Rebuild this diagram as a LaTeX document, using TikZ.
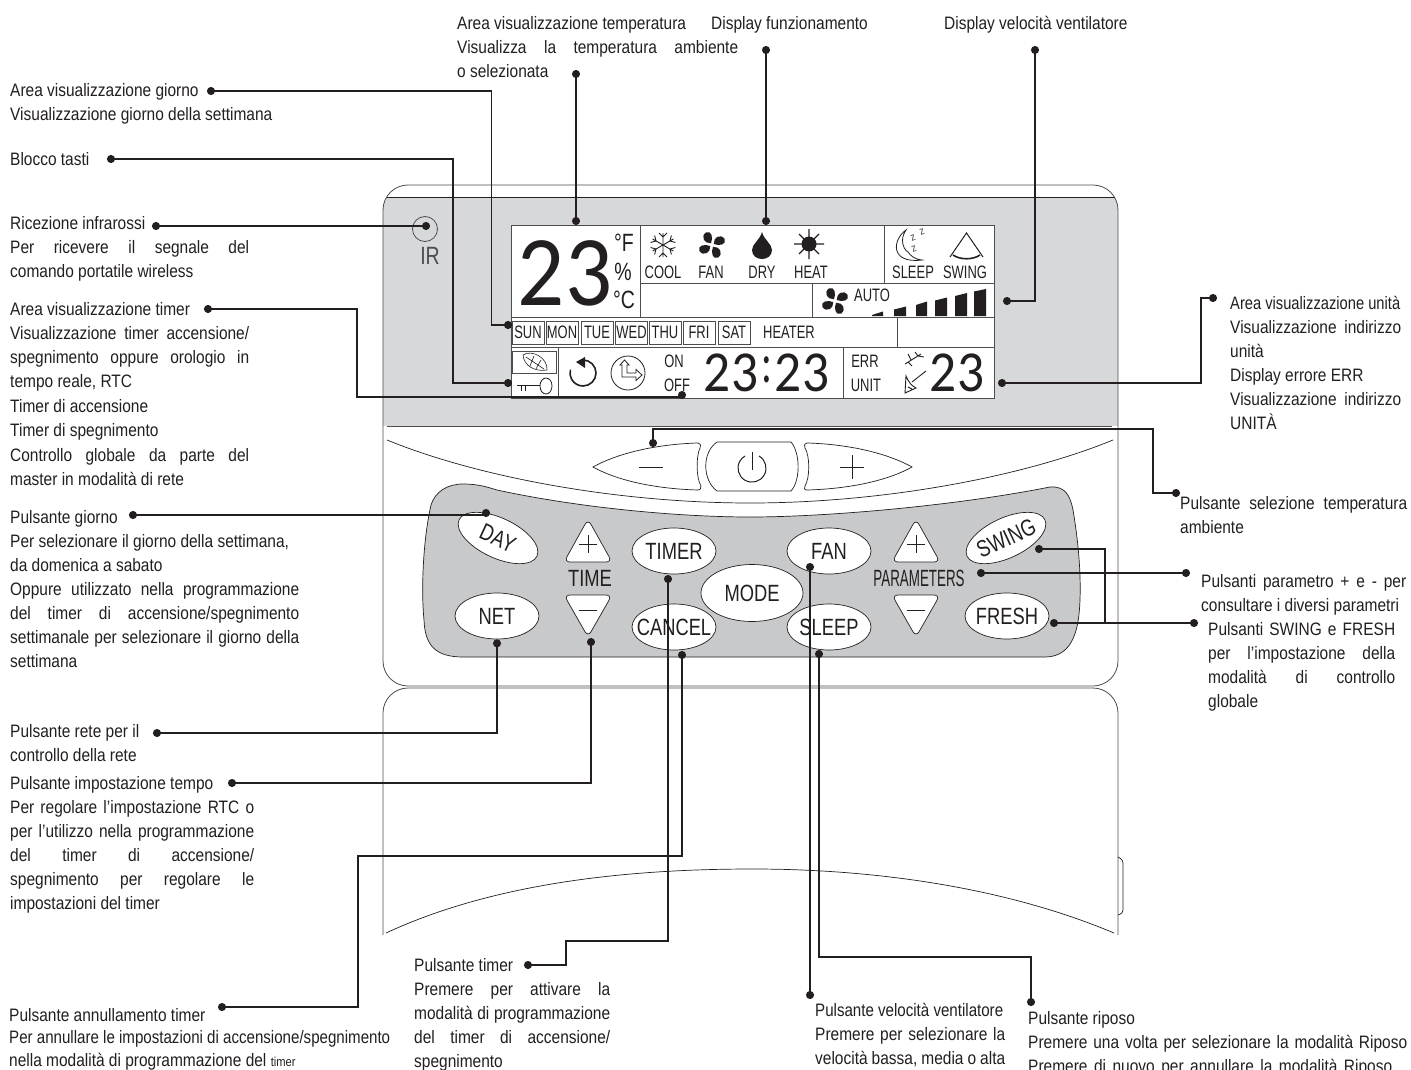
\documentclass[tikz,border=0pt]{standalone}
\usepackage{fontspec}
\setmainfont[FakeStretch=0.86]{Liberation Sans}
\newfontfamily\lcdfont{Carlito}
\newfontfamily\keyfont[FakeStretch=0.78]{Liberation Sans}
\newfontfamily\narrowfont[FakeStretch=0.72]{Liberation Sans}
\usetikzlibrary{arrows.meta,shapes.geometric}
\definecolor{ink}{HTML}{231F20}
\definecolor{lcdgrey}{HTML}{D7D8DA}
\definecolor{padgrey}{HTML}{C8C9CB}
\definecolor{edge}{HTML}{4D4D4F}
\newcommand{\notefont}{\fontsize{18}{24}\selectfont}
\newcommand{\jl}[1]{\makebox[\hsize][s]{#1}}
\newcommand{\sq}[2]{\resizebox{#1}{\height}{#2}}
\newcommand{\keytxt}[1]{\makebox[0pt]{\raisebox{-.36em}[0pt][0pt]{#1}}}
\tikzset{
  note/.style={anchor=north west,inner sep=0pt,align=flush left,font=\notefont,text=ink},
  lead/.style={draw=ink,line width=1.6pt,{Circle[length=8pt]}-{Circle[length=8pt]}},
  leadopen/.style={draw=ink,line width=1.6pt,{Circle[length=8pt]}-},
  outl/.style={draw=edge,line width=0.8pt},
  thinl/.style={draw=ink,line width=0.7pt},
  keybtn/.style={ellipse,draw=ink,line width=0.7pt,fill=white,inner sep=0pt,text=ink,
    minimum width=84pt,minimum height=46pt,font=\keyfont\fontsize{23.5}{24}\selectfont},
  keyrot/.style={keybtn,minimum width=86pt,minimum height=40pt},
  lcdbox/.style={draw=edge,line width=0.8pt},
  lcdtxt/.style={inner sep=0pt,text=ink,font=\narrowfont\fontsize{18}{18}\selectfont},
  unitxt/.style={inner sep=0pt,text=ink,font=\keyfont\fontsize{25}{25}\selectfont},
  zzz/.style={inner sep=0pt,text=edge,rotate=20,font=\fontsize{11}{11}\selectfont},
  dayb/.style={draw=edge,line width=0.7pt,inner sep=0pt,minimum width=32pt,minimum height=23pt,
    text=ink,font=\narrowfont\fontsize{18}{18}\selectfont},
  big/.style={inner sep=0pt,text=ink,font=\lcdfont\fontsize{100}{100}\selectfont},
  mid/.style={inner sep=0pt,text=ink,font=\lcdfont\fontsize{58}{58}\selectfont},
  padtxt/.style={inner sep=0pt,text=ink,font=\keyfont\fontsize{23.5}{24}\selectfont},
  fanicon/.pic={
    \foreach \a in {30,120,210,300}
      \fill[ink,rotate=\a] (0,-2) .. controls (-6,-5) and (-6,-13) .. (1,-14) .. controls (7,-13) and (5,-6) .. (0,-2) -- cycle;
  },
  flakeicon/.pic={
    \foreach \a in {0,60,120}
      \draw[ink,line width=0.9pt,rotate=\a] (0,-12) -- (0,12) (-4,-12) -- (0,-8) -- (4,-12) (-4,12) -- (0,8) -- (4,12);
  }
}
\begin{document}
\begin{tikzpicture}[x=1pt,y=-1pt]
\useasboundingbox[fill=white] (0,0) rectangle (1411,1070);

\begin{scope}
\clip[rounded corners=25pt] (383,185) rectangle (1118,686);
\fill[lcdgrey] (383,197) rectangle (1118,426);
\end{scope}
\draw[outl,rounded corners=25pt] (383,185) rectangle (1118,686);
\draw[thinl] (387,197) -- (1115,197);
\draw[outl] (387,426) -- (1112,426);
\draw[outl,rounded corners=25pt] (383,935) -- (383,688) -- (1118,688) -- (1118,935);
\draw[thinl] (386,933) .. controls (500,880) and (640,869) .. (753,869) .. controls (866,869) and (1000,885) .. (1114,933);
\draw[thinl,rounded corners=3pt] (1118,857) -- (1123,860) -- (1123,913) -- (1118,915);
\draw[thinl] (387,440) .. controls (480,478) and (620,503) .. (750,503) .. controls (880,503) and (1020,478) .. (1113,440);

\draw[thinl,fill=padgrey] (463,484) .. controls (478,484) and (487,487) .. (497,490) .. controls (580,508) and (680,517) .. (750,517)
  .. controls (830,517) and (960,505) .. (1050,487) .. controls (1065,486) and (1070,495) .. (1073,510)
  .. controls (1078,540) and (1081,570) .. (1080,600) .. controls (1079,625) and (1075,657) .. (1045,657)
  -- (463,657) .. controls (435,657) and (425,645) .. (424,620) .. controls (421,590) and (423,540) .. (431,505)
  .. controls (435,492) and (447,484) .. (463,484) -- cycle;

\draw[thinl,fill=white] (593,467) .. controls (620,452) and (660,444) .. (698,443) .. controls (701,444) and (701,446) .. (700,448)
  .. controls (696,456) and (696,478) .. (701,486) .. controls (701,489) and (700,490) .. (698,490) .. controls (660,489) and (620,482) .. (593,467) -- cycle;
\draw[thinl,fill=white] (717,442) -- (791,442) .. controls (800,452) and (801,480) .. (791,491) -- (717,491) .. controls (702,480) and (702,452) .. (717,442) -- cycle;
\draw[thinl,fill=white] (807,443) .. controls (845,444) and (885,452) .. (912,467) .. controls (885,482) and (845,489) .. (807,490)
  .. controls (804,490) and (804,488) .. (805,486) .. controls (810,478) and (810,456) .. (805,448) .. controls (804,446) and (804,444) .. (807,443) -- cycle;
\draw[thinl] (639,467) -- (663,467);
\draw[thinl] (840,467) -- (864,467) (852,455) -- (852,479);
\draw[draw=ink,line width=1pt] (759,456) arc[start angle=-60,end angle=240,radius=14];
\draw[draw=ink,line width=1pt] (752,452) -- (752,470);

\node[keyrot,rotate=-25] (day) at (498,538) {\keytxt{DAY}};
\node[keybtn] (net) at (497,616) {\keytxt{NET}};
\node[keybtn] (timer) at (674,551) {\keytxt{TIMER}};
\node[keybtn] (cancel) at (674,627) {\keytxt{CANCEL}};
\node[keybtn,minimum width=102pt,minimum height=57pt] (mode) at (752,593) {\keytxt{MODE}};
\node[keybtn] (fan) at (829,551) {\keytxt{FAN}};
\node[keybtn] (sleep) at (829,627) {\keytxt{SLEEP}};
\node[keyrot,rotate=25] (swing) at (1006,538) {\keytxt{SWING}};
\node[keybtn] (fresh) at (1007,616) {\keytxt{FRESH}};

\draw[thinl,fill=white,rounded corners=6pt] (588,519) -- (612,562) -- (564,562) -- cycle;
\draw[thinl] (579,544) -- (597,544) (588,535) -- (588,553);
\draw[thinl,fill=white,rounded corners=6pt] (564,595) -- (612,595) -- (588,637) -- cycle;
\draw[thinl] (579,610) -- (597,610);
\draw[thinl,fill=white,rounded corners=6pt] (916,519) -- (940,562) -- (892,562) -- cycle;
\draw[thinl] (907,544) -- (925,544) (916,535) -- (916,553);
\draw[thinl,fill=white,rounded corners=6pt] (892,595) -- (940,595) -- (916,637) -- cycle;
\draw[thinl] (907,610) -- (925,610);
\node[padtxt] (timelab) at (590,578) {TIME};
\node[padtxt] (paramlab) at (919,578) {\scalebox{.73}[1]{PARAMETERS}};

\draw[outl] (425,229) circle[radius=12.5];
\node[unitxt,text=edge] (ir) at (430,256) {IR};

\draw[lcdbox,fill=white] (511,225) rectangle (994,398);
\draw[lcdbox] (640,225) -- (640,317);
\draw[lcdbox] (640,283) -- (994,283);
\draw[lcdbox] (884,225) -- (884,283);
\draw[lcdbox] (812,283) -- (812,317);
\draw[lcdbox] (511,317) -- (994,317);
\draw[lcdbox] (511,347) -- (994,347);
\draw[lcdbox] (897,317) -- (897,347);
\draw[lcdbox] (558,347) -- (558,398);
\draw[lcdbox] (843,347) -- (843,398);

\node[big] (temp) at (565,273) {\scalebox{.93}[1]{23}};
\node[unitxt] (degf) at (624,243) {°F};
\node[unitxt] (perc) at (623,272) {\%};
\node[unitxt] (degc) at (624,300) {°C};

\pic at (663,245) {flakeicon};
\pic at (712,245) {fanicon};
\fill[ink] (762,232) .. controls (764,240) and (772,244) .. (772,250) .. controls (772,256) and (767,259) .. (762,259) .. controls (757,259) and (752,256) .. (752,250) .. controls (752,244) and (760,240) .. (762,232) -- cycle;
\fill[ink] (809,244) circle[radius=7.5];
\draw[ink,line width=1.3pt] (809,229) -- (809,259) (794,244) -- (824,244) (799,234) -- (819,254) (819,234) -- (799,254);
\node[lcdtxt] (cool) at (663,272) {COOL};
\node[lcdtxt] (fanlab) at (711,272) {FAN};
\node[lcdtxt] (dry) at (762,272) {DRY};
\node[lcdtxt] (heat) at (811,272) {HEAT};
\node[lcdtxt] (sleeplab) at (913,272) {SLEEP};
\node[lcdtxt] (swinglab) at (965,272) {SWING};

\draw[ink,line width=0.8pt,fill=white] (906,230) .. controls (892,240) and (890,264) .. (922,260) .. controls (914,259) and (911,256) .. (908,252) .. controls (904,250) and (899,240) .. (906,230) -- cycle;
\node[zzz] (za) at (913,238) {z};
\node[zzz] (zb) at (922,232) {z};
\node[zzz] (zc) at (914,249) {z};

\draw[ink,line width=1pt] (950,257) -- (966.5,233) -- (983,257);
\draw[ink,line width=1.6pt] (953,255) .. controls (960,260) and (973,260) .. (980,255);

\pic at (835,301) {fanicon};
\node[lcdtxt] (auto) at (872,295) {AUTO};
\foreach \xa/\xb/\ya/\yb in {872/883/315/311.5,894/906/309.5/306.5,916/927/305/301.5,935/947/300.5/297.5,955/967/296/293,974/986/291.5/289}
  \fill[ink] (\xa,316) -- (\xa,\ya) -- (\xb,\yb) -- (\xb,316) -- cycle;

\node[dayb] (sun) at (528,332.5) {SUN};
\node[dayb] (mon) at (562,332.5) {MON};
\node[dayb] (tue) at (597,332.5) {TUE};
\node[dayb] (wed) at (631.5,332.5) {WED};
\node[dayb] (thu) at (665,332.5) {THU};
\node[dayb] (fri) at (699,332.5) {FRI};
\node[dayb] (sat) at (734,332.5) {SAT};
\node[lcdtxt] (heater) at (789,332) {HEATER};

\draw[lcdbox] (512,351) rectangle (556,373);
\draw[ink,line width=0.6pt] (523,355) .. controls (532,349) and (548,358) .. (547,370) .. controls (535,372) and (524,366) .. (523,355) -- cycle;
\draw[ink,line width=0.6pt] (526,357) -- (544,369) (532,361) -- (534,356) (532,361) -- (530,366) (538,365) -- (541,360) (538,365) -- (536,369);
\draw[ink,line width=1.4pt] (517,385.5) -- (540,385.5);
\draw[ink,line width=0.8pt] (521,386) -- (521,391) (525,386) -- (525,391);
\draw[ink,line width=0.8pt] (546,386) ellipse[x radius=6,y radius=8];

\draw[ink,line width=1.6pt] (583,360) arc[start angle=-90,end angle=195,radius=13];
\fill[ink] (576,362) -- (585,357) -- (585,368) -- cycle;
\draw[ink,line width=0.8pt] (628,373) circle[radius=17];
\draw[ink,line width=0.8pt] (620,365) -- (624.5,360) -- (629,365) -- (627,365) -- (627,373) -- (636,373) -- (636,369.5) -- (642,375) -- (636,380.5) -- (636,377) -- (622,377) -- (622,365) -- cycle;

\node[lcdtxt] (on) at (674,361) {ON};
\node[lcdtxt] (off) at (677,385) {OFF};
\node[mid] (hh) at (731,373) {\scalebox{.92}[1]{23}};
\node[mid] (colon) at (767,370) {\scalebox{.7}[1]{:}};
\node[mid] (mm) at (802,373) {\scalebox{.92}[1]{23}};
\node[lcdtxt] (err) at (865,361) {ERR};
\node[lcdtxt] (unit) at (866,385) {UNIT};
\node[mid] (addr) at (957,373) {\scalebox{.92}[1]{23}};
\draw[ink,line width=0.9pt] (905,364) -- (921,354) (911,360) -- (908,354) (918,356) -- (915,352) (918,356) -- (924,357) (908,362) -- (912,366);
\draw[ink,line width=0.9pt] (905,393) -- (906,376) .. controls (909,383) and (912,386) .. (916,388) -- cycle (912,382) -- (926,371) (908,387) -- (912,389);

\node[note,text width=281pt] (ntemp) at (457,16) {Area visualizzazione temperatura\\\jl{Visualizza la temperatura ambiente}\\o selezionata};
\node[note] (nfunz) at (711,16) {Display funzionamento};
\node[note] (nvel) at (944,16) {Display velocità ventilatore};
\node[note] (ngio) at (10,83) {Area visualizzazione giorno\\Visualizzazione giorno della settimana};
\node[note] (nblo) at (10,152) {Blocco tasti};
\node[note,text width=239pt] (nric) at (10,216) {Ricezione infrarossi\\\jl{Per ricevere il segnale del}\\comando portatile wireless};
\node[note,text width=239pt] (ntim) at (10,302) {Area visualizzazione timer\\\jl{Visualizzazione timer accensione/}\\\jl{spegnimento oppure orologio in}\\tempo reale, RTC\\[1pt]Timer di accensione\\Timer di spegnimento\\[1pt]\jl{Controllo globale da parte del}\\master in modalità di rete};
\node[note,text width=289pt] (ngior) at (10,510) {Pulsante giorno\\Per selezionare il giorno della settimana,\\da domenica a sabato\\\jl{Oppure utilizzato nella programmazione}\\\jl{del timer di accensione/spegnimento}\\\jl{settimanale per selezionare il giorno della}\\settimana};
\node[note] (nret) at (10,724) {Pulsante rete per il\\controllo della rete};
\node[note,text width=244pt] (nimp) at (10,776) {Pulsante impostazione tempo\\\jl{Per regolare l'impostazione RTC o}\\\jl{per l'utilizzo nella programmazione}\\\jl{del timer di accensione/}\\\jl{spegnimento per regolare le}\\impostazioni del timer};
\node[note] (nann) at (9,1008) {Pulsante annullamento timer\\[-1.5pt]\sq{381pt}{Per annullare le impostazioni di accensione/spegnimento}\\[-1.5pt]nella modalità di programmazione del {\fontsize{13}{24}\selectfont timer}};
\node[note,text width=196pt] (nptim) at (414,958) {Pulsante timer\\\jl{Premere per attivare la}\\\jl{modalità di programmazione}\\\jl{del timer di accensione/}\\spegnimento};
\node[note,text width=190pt] (npvel) at (815,1003) {\sq{188pt}{Pulsante velocità ventilatore}\\\jl{Premere per selezionare la}\\\jl{velocità bassa, media o alta}};
\node[note,text width=379pt] (nrip) at (1028,1011) {Pulsante riposo\\\jl{Premere una volta per selezionare la modalità Riposo}\\\makebox[364pt][s]{Premere di nuovo per annullare la modalità Riposo}};
\node[note,text width=171pt] (nuni) at (1230,296) {\sq{170pt}{Area visualizzazione unità}\\\jl{Visualizzazione indirizzo}\\unità\\Display errore ERR\\\jl{Visualizzazione indirizzo}\\UNITÀ};
\node[note,text width=227pt] (nsel) at (1180,496) {\jl{Pulsante selezione temperatura}\\ambiente};
\node[note,text width=205pt] (npar) at (1201,574) {\jl{Pulsanti parametro + e - per}\\consultare i diversi parametri};
\node[note,text width=187pt] (nswi) at (1208,622) {\jl{Pulsanti SWING e FRESH}\\\jl{per l'impostazione della}\\\jl{modalità di controllo}\\globale};

\coordinate (ctemp) at (576,70);
\coordinate (cfunz) at (766,46);
\coordinate (cvel) at (1035,46);
\coordinate (cgio) at (207,91);
\coordinate (cblo) at (107,159);
\coordinate (cric) at (152,226);
\coordinate (ctim) at (204,309);
\coordinate (cuni) at (1217,298);
\coordinate (csel) at (1180,493);
\coordinate (cgior) at (129,515);
\coordinate (cret) at (153,733);
\coordinate (cimp) at (228,783);
\coordinate (cann) at (218,1007);
\coordinate (cptim) at (524,965);
\coordinate (cpvel) at (810,999);
\coordinate (crip) at (1031,1006);
\coordinate (cpar) at (1190,573);
\coordinate (cswi) at (1198,623);
\coordinate (dtemp) at (576,225);
\coordinate (dfunz) at (766,225);
\coordinate (dvel) at (1003,301);
\coordinate (dgio) at (512,325);
\coordinate (dblo) at (512,383);
\coordinate (dric) at (430,226);
\coordinate (dtim) at (682,391);
\coordinate (duni) at (998,383);
\coordinate (dsel) at (653,447);
\coordinate (dgior) at (486,517);
\coordinate (dimp) at (591,638);
\coordinate (dann) at (682,651);
\coordinate (dptim) at (668,575);
\coordinate (dpvel) at (810,563);
\coordinate (drip) at (819,650);
\coordinate (dpar) at (977,573);
\coordinate (dswi) at (1035,549);
\coordinate (dfre) at (1050,623);

\draw[lead] (ctemp) -- (dtemp);
\draw[lead] (cfunz) -- (dfunz);
\draw[lead] (cvel) -- (1035,301) -- (dvel);
\draw[lead] (cgio) -- (491.5,91) -- (491.5,325) -- (dgio);
\draw[lead] (cblo) -- (453,159) -- (453,383) -- (dblo);
\draw[lead] (cric) -- (dric);
\draw[lead] (ctim) -- (357,309) -- (357,397) -- (682,397) -- (dtim);
\draw[lead] (cuni) -- (1201,298) -- (1201,383) -- (duni);
\draw[lead] (csel) -- (1153,493) -- (1153,429) -- (653,429) -- (dsel);
\draw[lead] (cgior) -- (486,515) -- (dgior);
\draw[lead] (cret) -- (497,733) -- (net.south);
\draw[lead] (cimp) -- (591,783) -- (dimp);
\draw[lead] (cann) -- (358,1007) -- (358,856) -- (682,856) -- (dann);
\draw[lead] (cptim) -- (566,965) -- (566,941) -- (668,941) -- (dptim);
\draw[lead] (cpvel) -- (dpvel);
\draw[lead] (crip) -- (1031,957) -- (819,957) -- (drip);
\draw[lead] (cpar) -- (dpar);
\draw[lead] (cswi) -- (dfre);
\draw[leadopen] (dswi) -- (1105,549) -- (1105,623);
\end{tikzpicture}
\end{document}
